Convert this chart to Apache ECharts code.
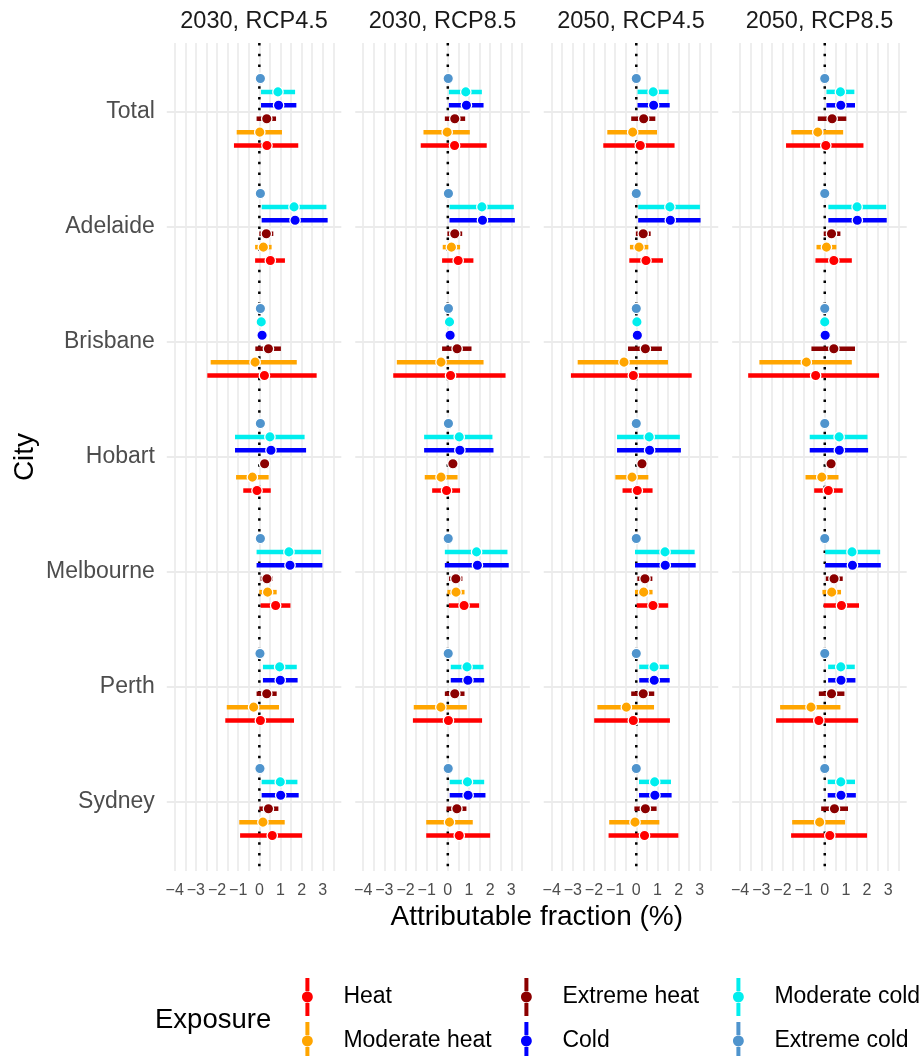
<!DOCTYPE html>
<html>
<head>
<meta charset="utf-8">
<script src="https://cdn.jsdelivr.net/npm/echarts@6/dist/echarts.min.js"></script>
<style>
  html, body { margin: 0; padding: 0; background: #fff; }
  #chart { width: 922px; height: 1056px; }
</style>
</head>
<body>
<div id="chart"></div>
<script>
const cities = ['Total', 'Adelaide', 'Brisbane', 'Hobart', 'Melbourne', 'Perth', 'Sydney'];
const scenarios = ['2030, RCP4.5', '2030, RCP8.5', '2050, RCP4.5', '2050, RCP8.5'];
const exposures = ['Heat', 'Moderate heat', 'Extreme heat', 'Cold', 'Moderate cold', 'Extreme cold'];
const xTickValues = [-4, -3, -2, -1, 0, 1, 2, 3];

// [estimate, lower, upper] per city, same order as cities
const heat_2030_45 = [[0.36, -1.2, 1.84], [0.52, -0.2, 1.21], [0.24, -2.46, 2.71], [-0.11, -0.76, 0.54], [0.77, 0.06, 1.47], [0.05, -1.61, 1.64], [0.61, -0.91, 2.02]];
const modHeat_2030_45 = [[0.02, -1.07, 1.07], [0.19, -0.2, 0.58], [-0.2, -2.3, 1.77], [-0.33, -1.1, 0.44], [0.39, 0.0, 0.82], [-0.27, -1.54, 0.93], [0.17, -0.95, 1.2]];
const extHeat_2030_45 = [[0.35, -0.13, 0.79], [0.33, 0.0, 0.66], [0.43, -0.19, 1.02], [0.25, 0.15, 0.35], [0.36, 0.06, 0.63], [0.35, -0.13, 0.82], [0.43, 0.0, 0.9]];
const cold_2030_45 = [[0.91, 0.08, 1.75], [1.69, 0.11, 3.23], [0.13, 0.13, 0.13], [0.55, -1.15, 2.21], [1.45, -0.13, 2.98], [0.99, 0.17, 1.81], [1.01, 0.11, 1.86]];
const modCold_2030_45 = [[0.88, 0.08, 1.69], [1.64, 0.11, 3.17], [0.09, 0.09, 0.09], [0.5, -1.15, 2.14], [1.4, -0.13, 2.92], [0.96, 0.17, 1.77], [0.99, 0.11, 1.8]];
const extCold_2030_45 = [[0.05, 0.05, 0.05], [0.05, 0.05, 0.05], [0.05, 0.05, 0.05], [0.05, 0.05, 0.05], [0.05, 0.05, 0.05], [0.03, 0.03, 0.03], [0.03, 0.03, 0.03]];

const heat_2030_85 = [[0.32, -1.28, 1.84], [0.49, -0.27, 1.21], [0.13, -2.58, 2.73], [-0.06, -0.74, 0.58], [0.77, 0.05, 1.48], [0.03, -1.65, 1.62], [0.54, -1.02, 2.0]];
const modHeat_2030_85 = [[-0.03, -1.15, 1.04], [0.17, -0.24, 0.58], [-0.32, -2.41, 1.69], [-0.32, -1.09, 0.46], [0.39, -0.02, 0.79], [-0.33, -1.61, 0.9], [0.08, -1.02, 1.18]];
const extHeat_2030_85 = [[0.33, -0.14, 0.82], [0.33, -0.02, 0.68], [0.44, -0.27, 1.12], [0.24, 0.14, 0.34], [0.38, 0.06, 0.69], [0.33, -0.14, 0.79], [0.43, -0.06, 0.88]];
const cold_2030_85 = [[0.88, 0.05, 1.69], [1.64, 0.08, 3.17], [0.11, 0.11, 0.11], [0.57, -1.12, 2.16], [1.4, -0.14, 2.88], [0.95, 0.14, 1.72], [0.96, 0.09, 1.78]];
const modCold_2030_85 = [[0.85, 0.05, 1.61], [1.61, 0.08, 3.12], [0.08, 0.08, 0.08], [0.54, -1.12, 2.11], [1.36, -0.14, 2.82], [0.91, 0.14, 1.69], [0.93, 0.09, 1.72]];
const extCold_2030_85 = [[0.02, 0.02, 0.02], [0.03, 0.03, 0.03], [0.03, 0.03, 0.03], [0.03, 0.03, 0.03], [0.02, 0.02, 0.02], [0.02, 0.02, 0.02], [0.02, 0.02, 0.02]];

const heat_2050_45 = [[0.19, -1.56, 1.81], [0.46, -0.33, 1.26], [-0.14, -3.09, 2.62], [0.05, -0.65, 0.77], [0.79, 0.02, 1.51], [-0.14, -1.99, 1.59], [0.39, -1.31, 1.99]];
const modHeat_2050_45 = [[-0.17, -1.37, 0.98], [0.13, -0.3, 0.57], [-0.58, -2.77, 1.5], [-0.2, -0.99, 0.57], [0.35, -0.06, 0.77], [-0.47, -1.84, 0.84], [-0.06, -1.28, 1.09]];
const extHeat_2050_45 = [[0.35, -0.24, 0.9], [0.33, -0.02, 0.68], [0.43, -0.39, 1.21], [0.27, 0.17, 0.37], [0.41, 0.05, 0.76], [0.33, -0.24, 0.85], [0.43, -0.09, 0.96]];
const cold_2050_45 = [[0.82, 0.06, 1.58], [1.61, 0.09, 3.04], [0.05, 0.05, 0.05], [0.63, -0.91, 2.11], [1.37, -0.06, 2.81], [0.85, 0.14, 1.58], [0.88, 0.13, 1.67]];
const modCold_2050_45 = [[0.8, 0.06, 1.53], [1.59, 0.09, 3.01], [0.03, 0.03, 0.03], [0.61, -0.91, 2.06], [1.36, -0.06, 2.76], [0.84, 0.14, 1.54], [0.87, 0.13, 1.64]];
const extCold_2050_45 = [[0, 0, 0], [0, 0, 0], [0, 0, 0], [0, 0, 0], [0, 0, 0], [0, 0, 0], [0, 0, 0]];

const heat_2050_85 = [[0.05, -1.83, 1.83], [0.43, -0.44, 1.28], [-0.43, -3.62, 2.57], [0.17, -0.5, 0.85], [0.79, -0.05, 1.62], [-0.28, -2.3, 1.58], [0.24, -1.59, 2.0]];
const modHeat_2050_85 = [[-0.33, -1.58, 0.87], [0.08, -0.39, 0.55], [-0.87, -3.09, 1.28], [-0.14, -0.91, 0.65], [0.33, -0.11, 0.77], [-0.65, -2.11, 0.74], [-0.24, -1.54, 0.96]];
const extHeat_2050_85 = [[0.35, -0.33, 1.02], [0.32, -0.05, 0.74], [0.43, -0.63, 1.43], [0.3, 0.2, 0.4], [0.44, 0.05, 0.85], [0.32, -0.28, 0.93], [0.46, -0.17, 1.1]];
const cold_2050_85 = [[0.76, 0.08, 1.43], [1.54, 0.17, 2.93], [0.02, 0.02, 0.02], [0.69, -0.71, 2.05], [1.31, 0.02, 2.65], [0.77, 0.16, 1.45], [0.77, 0.14, 1.47]];
const modCold_2050_85 = [[0.74, 0.08, 1.4], [1.53, 0.17, 2.9], [0, 0, 0], [0.68, -0.71, 2.02], [1.29, 0.02, 2.62], [0.76, 0.16, 1.42], [0.76, 0.14, 1.43]];
const extCold_2050_85 = [[0, 0, 0], [0, 0, 0], [0, 0, 0], [0, 0, 0], [0, 0, 0], [0, 0, 0], [0, 0, 0]];

// one row per facet, columns in the order of `exposures`
const panelData = [
  [heat_2030_45, modHeat_2030_45, extHeat_2030_45, cold_2030_45, modCold_2030_45, extCold_2030_45],
  [heat_2030_85, modHeat_2030_85, extHeat_2030_85, cold_2030_85, modCold_2030_85, extCold_2030_85],
  [heat_2050_45, modHeat_2050_45, extHeat_2050_45, cold_2050_45, modCold_2050_45, extCold_2050_45],
  [heat_2050_85, modHeat_2050_85, extHeat_2050_85, cold_2050_85, modCold_2050_85, extCold_2050_85]
];

const colors = ['#FF0000', '#FFA500', '#8B0000', '#0000FF', '#00EEEE', '#4F94CD'];
const gridColor = '#EBEBEB';
const fontFamily = 'Liberation Sans, Arial, sans-serif';

// layout of the facets
const panelLeft = 166.8, panelStep = 188.47, panelWidth = 174.5;
const panelTop = 43, panelHeight = 828;
const dodge = 0.7 / exposures.length;

const chart = echarts.init(document.getElementById('chart'));

function fmtTick(v) {
  const r = Math.round(v);
  if (Math.abs(v - r) > 1e-6 || xTickValues.indexOf(r) < 0) return '';
  return r < 0 ? '\u2212' + Math.abs(r) : String(r);
}

function fmtCity(v) {
  const r = Math.round(v);
  if (Math.abs(v - r) > 1e-6 || r < 1 || r > cities.length) return '';
  return cities[r - 1];
}

// error bar + point
function renderRange(params, api) {
  const y = api.value(3);
  const a = api.coord([api.value(1), y]);
  const b = api.coord([api.value(2), y]);
  const c = api.coord([api.value(0), y]);
  const color = api.visual('color');
  return {
    type: 'group',
    children: [
      { type: 'line', shape: { x1: a[0], y1: a[1], x2: b[0], y2: b[1] },
        style: { stroke: color, lineWidth: 4.5, lineCap: 'butt' } },
      { type: 'circle', shape: { cx: c[0], cy: c[1], r: 5.2 },
        style: { fill: color, stroke: '#fff', lineWidth: 1.3 } }
    ]
  };
}

// dotted reference line at x = 0
function renderZero(params, api) {
  const x = api.coord([api.value(0), 1])[0];
  const cs = params.coordSys;
  return {
    type: 'line',
    shape: { x1: x, y1: cs.y, x2: x, y2: cs.y + cs.height },
    style: { stroke: '#000', lineWidth: 2.5, lineDash: [2.5, 8.3], lineCap: 'butt' }
  };
}

const grids = [], xAxes = [], yAxes = [], series = [], titles = [];

scenarios.forEach((sc, p) => {
  const left = panelLeft + panelStep * p;
  grids.push({ left: left, top: panelTop, width: panelWidth, height: panelHeight });
  xAxes.push({
    type: 'value', gridIndex: p, min: -4.375, max: 3.875, interval: 0.125,
    axisLine: { show: false }, axisTick: { show: false },
    axisLabel: { formatter: fmtTick, color: '#4D4D4D', fontSize: 16, fontFamily: fontFamily, margin: 12 },
    splitLine: { show: true, lineStyle: { color: ['transparent', 'transparent', 'transparent', gridColor], width: 1.7 } }
  });
  yAxes.push({
    type: 'value', gridIndex: p, min: 0.4, max: 7.6, interval: 0.2, inverse: true,
    name: p === 0 ? 'City' : '', nameLocation: 'middle', nameRotate: 90, nameGap: 128,
    nameTextStyle: { color: '#000', fontSize: 28, fontFamily: fontFamily },
    axisLine: { show: false }, axisTick: { show: false },
    axisLabel: { show: p === 0, formatter: fmtCity, color: '#4D4D4D', fontSize: 23, fontFamily: fontFamily, margin: 12 },
    splitLine: { show: true, lineStyle: { color: ['transparent', 'transparent', 'transparent', gridColor, 'transparent'], width: 2 } }
  });
  titles.push({
    text: sc, left: left + panelWidth / 2, top: 10, textAlign: 'center', padding: 0,
    textStyle: { color: '#1A1A1A', fontSize: 23.5, fontWeight: 'normal', fontFamily: fontFamily }
  });
  series.push({
    type: 'custom', name: 'zero', xAxisIndex: p, yAxisIndex: p, z: 1, silent: true,
    data: [[0]], encode: { x: 0 }, renderItem: renderZero
  });
  exposures.forEach((ex, e) => {
    const offset = (2.5 - e) * dodge;
    series.push({
      type: 'custom', name: ex, xAxisIndex: p, yAxisIndex: p, z: 2,
      itemStyle: { color: colors[e] },
      data: panelData[p][e].map((d, c) => [d[0], d[1], d[2], c + 1 + offset]),
      encode: { x: [0, 1, 2], y: 3 },
      renderItem: renderRange
    });
  });
});

titles.push({
  text: 'Attributable fraction (%)', left: panelLeft + (panelStep * 3 + panelWidth) / 2, top: 903,
  textAlign: 'center', padding: 0,
  textStyle: { color: '#000', fontSize: 28, fontWeight: 'normal', fontFamily: fontFamily }
});
titles.push({
  text: 'Exposure', left: 155, top: 1006, padding: 0,
  textStyle: { color: '#000', fontSize: 27.5, fontWeight: 'normal', fontFamily: fontFamily }
});

// legend keys: 3 columns x 2 rows, filled column by column
const keyIcon = 'path://M5,0H9V13H5Z M5,25H9V38H5Z M1.6,19C1.6,16,4,13.6,7,13.6C10,13.6,12.4,16,12.4,19C12.4,22,10,24.4,7,24.4C4,24.4,1.6,22,1.6,19Z';
const keyCenters = [309, 528, 740];
const rowCenters = [997, 1041];
const legends = exposures.map((ex, e) => ({
  left: keyCenters[Math.floor(e / 2)] - 7,
  top: rowCenters[e % 2] - 19,
  padding: 0, itemWidth: 14, itemHeight: 38, itemGap: 0,
  selectedMode: false,
  textStyle: { color: '#000', fontSize: 23, fontFamily: fontFamily, padding: [0, 0, 0, 24] },
  data: [{ name: ex, icon: keyIcon, itemStyle: { color: colors[e], borderWidth: 0 } }]
}));

chart.setOption({
  animation: false,
  backgroundColor: '#fff',
  title: titles,
  legend: legends,
  grid: grids,
  xAxis: xAxes,
  yAxis: yAxes,
  series: series
});
</script>
</body>
</html>
